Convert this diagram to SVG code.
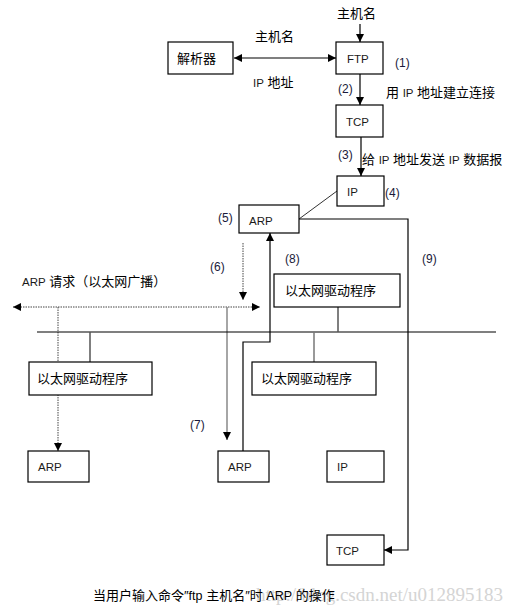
<svg xmlns="http://www.w3.org/2000/svg" width="514" height="614" viewBox="0 0 514 614">
<style>
.box{fill:#fff;stroke:#000;stroke-width:1.2}
.t{font-family:"Liberation Sans","Noto Sans CJK SC",sans-serif;font-size:13px;fill:#000}
.l{font-family:"Liberation Sans","Noto Sans CJK SC",sans-serif;font-size:11.5px;fill:#1a1a1a}
.n{font-family:"Liberation Sans",sans-serif;font-size:12px;fill:#1a1a3a}
.ln{fill:none;stroke:#000;stroke-width:1.2}
.g{fill:none;stroke:#888;stroke-width:1.5}
.d{fill:none;stroke:#444;stroke-width:1;stroke-dasharray:1.5 1}
</style>
<defs>
<marker id="a" viewBox="0 0 10 10" refX="10" refY="5" markerWidth="8" markerHeight="8" markerUnits="userSpaceOnUse" orient="auto-start-reverse"><path d="M0,0 L10,5 L0,10 z" fill="#000"/></marker>
</defs>
<rect width="514" height="614" fill="#fff"/>
<text x="503" y="601" text-anchor="end" font-family="Liberation Serif,serif" font-size="19" fill="#d4d4d4">http://blog.csdn.net/u012895183</text>
<g id="connectors">
<line class="ln" x1="360" y1="24" x2="360" y2="42" marker-end="url(#a)"/>
<line class="ln" x1="234" y1="58" x2="336" y2="58" marker-start="url(#a)" marker-end="url(#a)"/>
<line class="ln" x1="360" y1="74" x2="360" y2="105" marker-end="url(#a)"/>
<line class="ln" x1="361" y1="137" x2="361" y2="176" marker-end="url(#a)"/>
<line x1="337" y1="191" x2="299" y2="219" stroke="#333" stroke-width="1"/>
<polyline class="ln" points="299,219 408,219 408,550 384,550" marker-end="url(#a)"/>
<polyline class="ln" points="243,451 243,342 270,342 270,233" marker-end="url(#a)"/>
<line class="d" x1="243" y1="243" x2="243" y2="300" marker-end="url(#a)"/>
<line class="d" x1="13" y1="307" x2="260" y2="307" marker-start="url(#a)" marker-end="url(#a)"/>
<line class="d" x1="58" y1="307" x2="58" y2="451" marker-end="url(#a)"/>
<line class="g" x1="227" y1="307" x2="227" y2="440" marker-end="url(#a)"/>
<line x1="37" y1="332" x2="496" y2="332" stroke="#000" stroke-width="1.2"/>
<line x1="338" y1="307" x2="338" y2="332" stroke="#555" stroke-width="1.5"/>
<line x1="90" y1="332" x2="90" y2="362" stroke="#555" stroke-width="1.5"/>
<line x1="314" y1="332" x2="314" y2="362" stroke="#777" stroke-width="1.5"/>
</g>
<g id="resolver"><rect class="box" x="168" y="42" width="65" height="32"/><text class="t" x="177" y="63">解析器</text></g>
<g id="ftp"><rect class="box" x="336" y="42" width="47" height="32"/><text class="l" x="347" y="63">FTP</text></g>
<g id="tcp1"><rect class="box" x="336" y="105" width="47" height="32"/><text class="l" x="346" y="126">TCP</text></g>
<g id="ip1"><rect class="box" x="337" y="176" width="47" height="30"/><text class="l" x="347" y="196">IP</text></g>
<g id="arp1"><rect class="box" x="239" y="205" width="60" height="28"/><text class="l" x="249" y="225">ARP</text></g>
<g id="eth1"><rect class="box" x="274" y="274" width="126" height="33"/><text class="t" x="285" y="295">以太网驱动程序</text></g>
<g id="eth2"><rect class="box" x="29" y="362" width="123" height="33"/><text class="t" x="37" y="383">以太网驱动程序</text></g>
<g id="eth3"><rect class="box" x="252" y="362" width="124" height="33"/><text class="t" x="261" y="383">以太网驱动程序</text></g>
<g id="arp2"><rect class="box" x="28" y="451" width="61" height="31"/><text class="l" x="38" y="471">ARP</text></g>
<g id="arp3"><rect class="box" x="218" y="451" width="51" height="31"/><text class="l" x="228" y="471">ARP</text></g>
<g id="ip2"><rect class="box" x="327" y="451" width="57" height="31"/><text class="l" x="337" y="471">IP</text></g>
<g id="tcp2"><rect class="box" x="327" y="535" width="57" height="30"/><text class="l" x="336" y="555">TCP</text></g>
<g id="labels">
<text class="t" x="337" y="18">主机名</text>
<text class="t" x="255" y="41">主机名</text>
<text class="t" x="253" y="87"><tspan class="l">IP</tspan> 地址</text>
<text class="n" x="395" y="67">(1)</text>
<text class="n" x="338" y="93">(2)</text>
<text class="t" x="386" y="97">用 <tspan class="l">IP</tspan> 地址建立连接</text>
<text class="n" x="338" y="159">(3)</text>
<text class="t" x="362" y="164">给 <tspan class="l">IP</tspan> 地址发送 <tspan class="l">IP</tspan> 数据报</text>
<text class="n" x="385" y="197">(4)</text>
<text class="n" x="218" y="222">(5)</text>
<text class="n" x="210" y="271">(6)</text>
<text class="n" x="285" y="263">(8)</text>
<text class="n" x="422" y="263">(9)</text>
<text class="n" x="190" y="429">(7)</text>
<text class="t" x="22" y="286"><tspan class="l">ARP</tspan> 请求（以太网广播）</text>
<text class="t" x="93" y="600" font-size="14">当用户输入命令″<tspan font-size="12.5">ftp</tspan> 主机名″时 <tspan font-size="12.5">ARP</tspan> 的操作</text>
</g>
</svg>
